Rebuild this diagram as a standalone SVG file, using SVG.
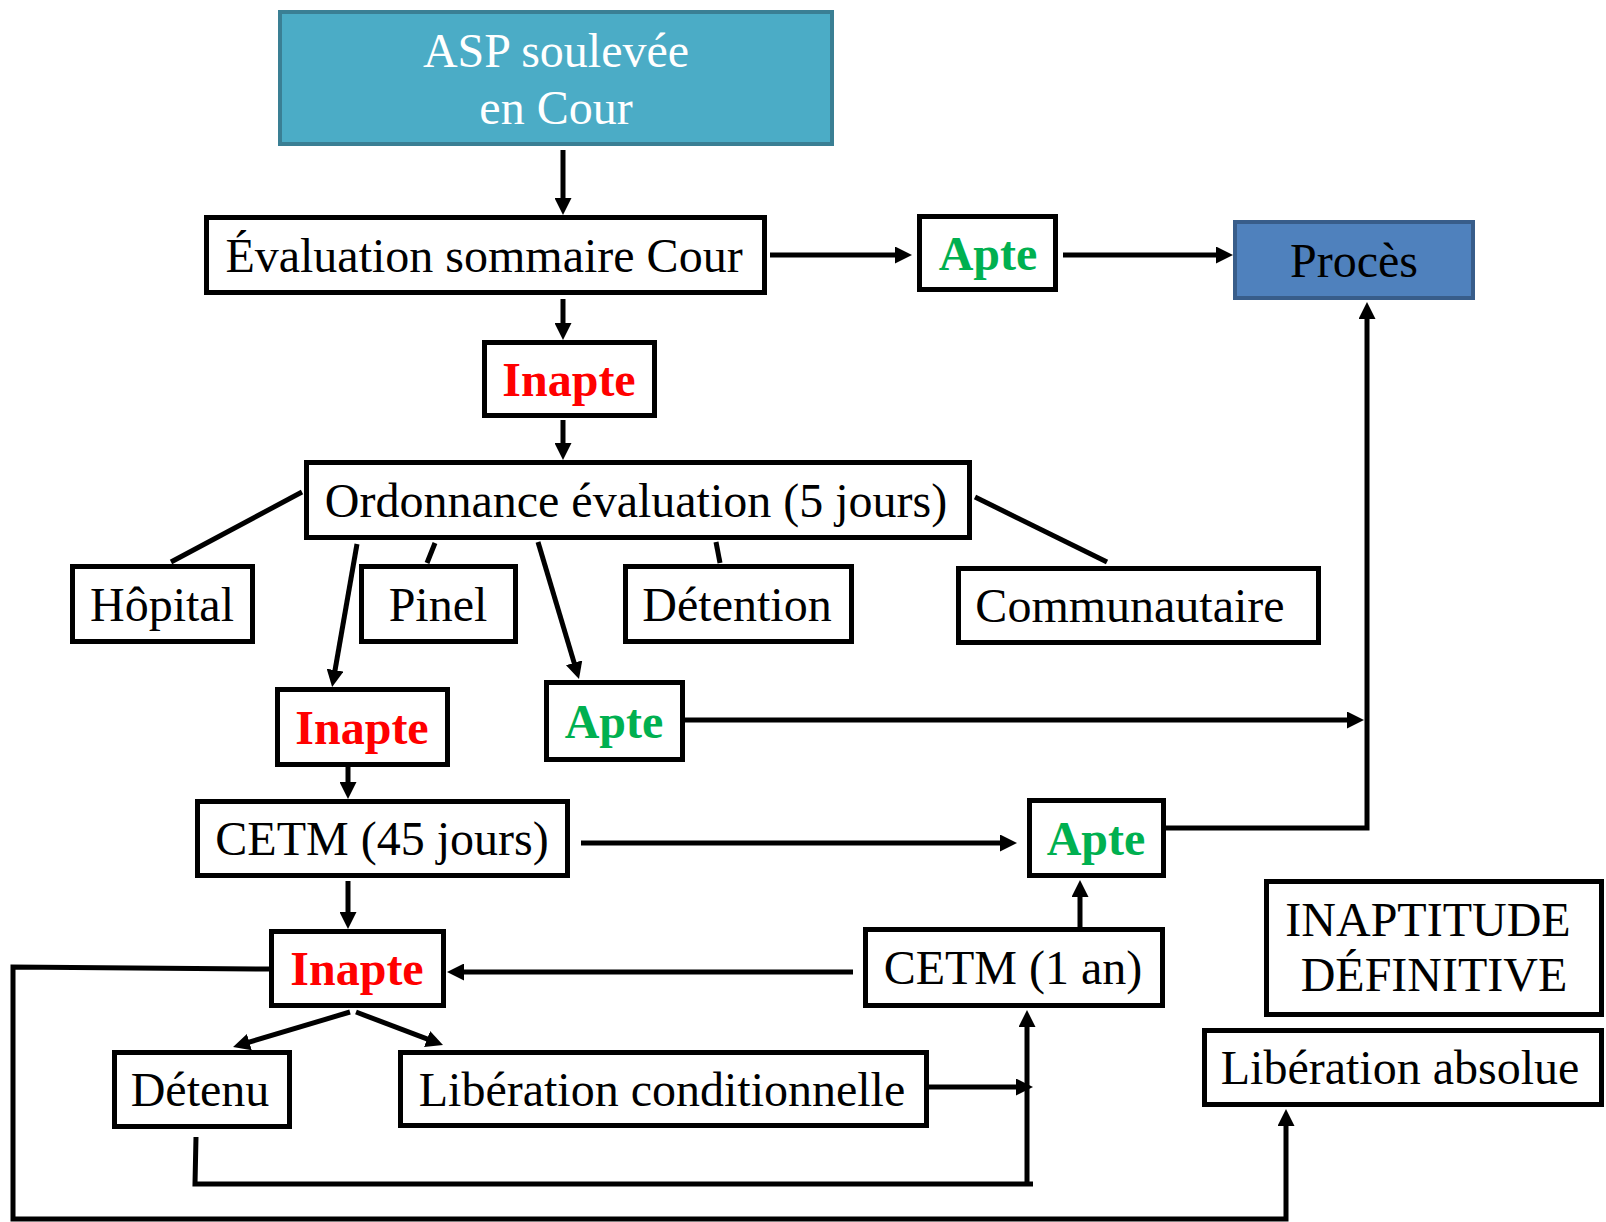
<svg xmlns="http://www.w3.org/2000/svg" width="1606" height="1222" viewBox="0 0 1606 1222">
<style>
.box{fill:#fff;stroke:#000;stroke-width:5}
.t{font-family:"Liberation Serif","Times New Roman",serif;font-size:48px;fill:#000;text-anchor:middle}
.b{font-weight:bold}
.red{fill:#FF0000}
.green{fill:#00B050}
.c{fill:none;stroke:#000;stroke-width:5}
.a{marker-end:url(#ah)}
</style>
<defs>
<marker id="ah" viewBox="0 0 17 17" refX="9" refY="8.5" markerWidth="17" markerHeight="17" markerUnits="userSpaceOnUse" orient="auto">
<path d="M0,0 L17,8.5 L0,17 z" fill="#000"/>
</marker>
</defs>
<rect width="1606" height="1222" fill="#fff"/>
<g id="connectors">
<path class="c a" d="M563,150 V207"/>
<path class="c a" d="M770,255 H904"/>
<path class="c a" d="M1063,255 H1225"/>
<path class="c a" d="M563,299 V332"/>
<path class="c a" d="M563,420 V452"/>
<path class="c" d="M302,492 L171,562"/>
<path class="c" d="M435,543 L427,563"/>
<path class="c" d="M716,542 L720,563"/>
<path class="c" d="M975,497 L1107,562"/>
<path class="c a" d="M357,544 L333.5,679"/>
<path class="c a" d="M538,542 L576.7,671.4"/>
<path class="c a" d="M684,720 H1356"/>
<path class="c a" d="M1166,828 H1367 V310"/>
<path class="c a" d="M348,767 V791"/>
<path class="c a" d="M581,843 H1009"/>
<path class="c a" d="M348,881 V921"/>
<path class="c a" d="M1080,927 V888"/>
<path class="c a" d="M853,972 H455"/>
<path class="c a" d="M350,1012 L240.7,1044.7"/>
<path class="c a" d="M356,1012 L435.5,1042.2"/>
<path class="c a" d="M929,1087 H1025"/>
<path class="c" d="M196,1137 L195,1184 H1033"/>
<path class="c a" d="M1027,1184 V1018"/>
<path class="c a" d="M269,969 L13,967 V1219 H1286 V1117"/>
</g>
<g id="asp">
<rect x="280" y="12" width="552" height="132" fill="#4BACC6" stroke="#3A7F94" stroke-width="4"/>
<text class="t" x="556" y="67" fill="#fff" style="fill:#fff">ASP soulevée</text>
<text class="t" x="556" y="124" style="fill:#fff">en Cour</text>
</g>
<g id="evaluation">
<rect class="box" x="206.5" y="217.5" width="558" height="75"/>
<text class="t" x="484" y="272">Évaluation sommaire Cour</text>
</g>
<g id="apte1">
<rect class="box" x="919.5" y="216.5" width="136" height="73"/>
<text class="t b green" x="988" y="270">Apte</text>
</g>
<g id="proces">
<rect x="1235" y="222" width="238" height="76" fill="#4F81BD" stroke="#385D8A" stroke-width="4"/>
<text class="t" x="1354" y="277">Procès</text>
</g>
<g id="inapte1">
<rect class="box" x="484.5" y="342.5" width="170" height="73"/>
<text class="t b red" x="569" y="396">Inapte</text>
</g>
<g id="ordonnance">
<rect class="box" x="306.5" y="462.5" width="663" height="75"/>
<text class="t" x="636" y="517">Ordonnance évaluation (5 jours)</text>
</g>
<g id="hopital">
<rect class="box" x="72.5" y="566.5" width="180" height="75"/>
<text class="t" x="162" y="621">Hôpital</text>
</g>
<g id="pinel">
<rect class="box" x="361.5" y="566.5" width="154" height="75"/>
<text class="t" x="438" y="621">Pinel</text>
</g>
<g id="detention">
<rect class="box" x="625.5" y="566.5" width="226" height="75"/>
<text class="t" x="737" y="621">Détention</text>
</g>
<g id="communautaire">
<rect class="box" x="958.5" y="568.5" width="360" height="74"/>
<text class="t" x="1130" y="622">Communautaire</text>
</g>
<g id="inapte2">
<rect class="box" x="277.5" y="689.5" width="170" height="75"/>
<text class="t b red" x="362" y="744">Inapte</text>
</g>
<g id="apte2">
<rect class="box" x="546.5" y="682.5" width="136" height="77"/>
<text class="t b green" x="614" y="738">Apte</text>
</g>
<g id="cetm45">
<rect class="box" x="197.5" y="801.5" width="370" height="74"/>
<text class="t" x="382" y="855">CETM (45 jours)</text>
</g>
<g id="apte3">
<rect class="box" x="1029.5" y="800.5" width="134" height="75"/>
<text class="t b green" x="1096" y="855">Apte</text>
</g>
<g id="inapte3">
<rect class="box" x="271.5" y="931.5" width="172" height="74"/>
<text class="t b red" x="357" y="985">Inapte</text>
</g>
<g id="cetm1an">
<rect class="box" x="865.5" y="929.5" width="297" height="76"/>
<text class="t" x="1013" y="984">CETM (1 an)</text>
</g>
<g id="inaptitude">
<rect class="box" x="1266.5" y="881.5" width="335" height="133"/>
<text class="t" x="1428" y="936">INAPTITUDE</text>
<text class="t" x="1434" y="991">DÉFINITIVE</text>
</g>
<g id="detenu">
<rect class="box" x="114.5" y="1052.5" width="175" height="74"/>
<text class="t" x="200" y="1106">Détenu</text>
</g>
<g id="liberation-conditionnelle">
<rect class="box" x="400.5" y="1052.5" width="526" height="73"/>
<text class="t" x="662" y="1106">Libération conditionnelle</text>
</g>
<g id="liberation-absolue">
<rect class="box" x="1204.5" y="1030.5" width="397" height="74"/>
<text class="t" x="1400" y="1084">Libération absolue</text>
</g>
</svg>
